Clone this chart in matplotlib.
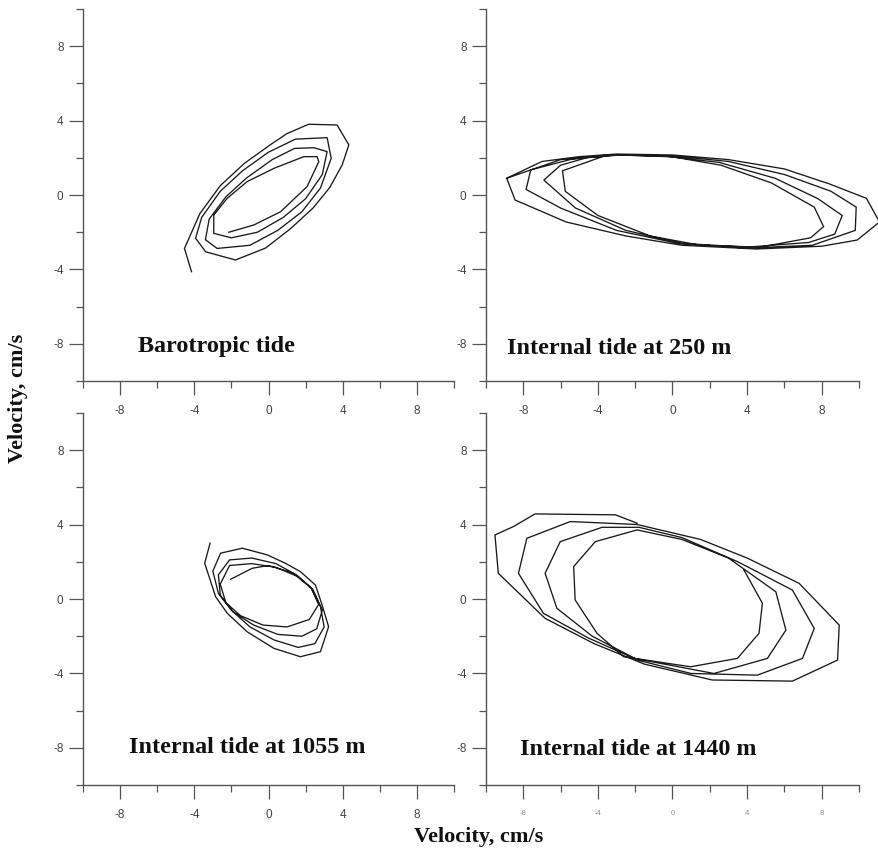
import matplotlib
matplotlib.use("Agg")
import matplotlib.pyplot as plt
from matplotlib.ticker import FixedLocator

# Tidal current hodographs (east u, north v), cm/s
baro_u = [-4.15, -4.53, -3.70, -2.60, -1.30, 0.10, 1.00, 2.17, 3.70, 4.33, 3.97, 3.30, 2.40, 1.20, -0.16, -1.78, -3.39, -3.93,
          -3.60, -2.60, -1.40, 0.00, 1.45, 3.16, 3.38, 2.80, 1.80, 0.50, -1.00, -2.77, -3.40,
          -3.20, -2.30, -1.20, 0.20, 1.40, 2.44, 3.16, 2.90, 2.00, 0.80, -0.60, -2.00, -2.95,
          -2.95, -2.23, -1.15, 0.29, 1.90, 2.62, 2.71, 2.08, 0.65, -0.79, -2.14]
baro_v = [-4.12, -2.87, -1.00, 0.50, 1.70, 2.70, 3.30, 3.80, 3.76, 2.69, 1.61, 0.40, -0.70, -1.80, -2.85, -3.49, -3.05, -2.32,
          -1.20, 0.20, 1.30, 2.30, 3.00, 3.08, 1.97, 0.37, -0.90, -1.90, -2.70, -2.87, -2.40,
          -1.30, -0.10, 0.90, 1.90, 2.50, 2.54, 2.33, 1.10, -0.20, -1.20, -2.00, -2.30, -2.06,
          -1.08, -0.18, 0.72, 1.43, 2.06, 2.06, 1.79, 0.45, -0.90, -1.61, -2.00]

it250_u = [-3.50, -5.90, -5.75, -4.00, -1.20, 1.50, 4.70, 7.40, 8.10, 7.60, 5.30, 2.60, 0.00, -2.80, -4.60,
           -6.00, -6.90, -5.20, -2.50, 0.50, 4.00, 7.30, 8.70, 9.10, 7.80, 5.50, 2.50, -0.50, -3.50, -5.50,
           -7.60, -7.85, -6.00, -3.00, 0.30, 4.00, 7.50, 9.80, 9.85, 8.50, 6.00, 3.00, 0.00, -3.00, -6.00,
           -8.89, -8.44, -5.70, -2.50, 0.50, 4.50, 8.00, 9.90, 11.10, 10.40, 8.40, 6.00, 3.00, 0.00, -3.00, -5.00, -7.00,
           -8.89]
it250_v = [2.15, 1.30, 0.20, -1.10, -2.20, -2.70, -2.80, -2.30, -1.70, -0.65, 0.65, 1.60, 2.05, 2.15, 2.00,
           1.60, 0.80, -0.70, -1.90, -2.60, -2.80, -2.55, -2.10, -1.10, -0.20, 0.90, 1.75, 2.10, 2.15, 1.90,
           1.35, 0.30, -0.70, -1.90, -2.60, -2.85, -2.70, -1.90, -0.65, 0.20, 1.10, 1.80, 2.10, 2.15, 1.90,
           0.90, -0.27, -1.45, -2.20, -2.70, -2.90, -2.75, -2.42, -1.45, -0.18, 0.60, 1.40, 1.90, 2.15, 2.20, 2.06, 1.80,
           0.90]

it1055_u = [-3.15, -3.44, -2.85, -2.22, -1.15, 0.29, 1.72, 2.80, 3.24, 2.89, 2.53, 1.72, 0.91, -0.07, -1.41, -2.58,
            -3.00, -2.70, -2.00, -1.00, 0.30, 1.60, 2.50, 3.00, 2.80, 2.30, 1.50, 0.40, -0.90, -2.10,
            -2.70, -2.60, -1.90, -0.80, 0.50, 1.80, 2.60, 2.90, 2.40, 1.60, 0.40, -0.90, -2.10,
            -2.60, -2.30, -1.50, -0.30, 1.00, 2.20, 2.70, 2.30, 1.30, 0.00, -0.88, -2.04]
it1055_v = [3.00, 1.92, 0.12, -0.77, -1.76, -2.65, -3.10, -2.83, -1.49, -0.32, 0.75, 1.47, 1.92, 2.37, 2.73, 2.46,
            1.50, 0.30, -0.60, -1.50, -2.20, -2.60, -2.40, -1.50, -0.40, 0.60, 1.30, 1.90, 2.20, 2.10,
            1.30, 0.20, -0.70, -1.40, -1.90, -2.00, -1.60, -0.60, 0.50, 1.20, 1.70, 1.90, 1.80,
            0.80, -0.20, -0.90, -1.40, -1.50, -1.10, -0.30, 0.60, 1.40, 1.80, 1.65, 1.06]

it1440_u = [-1.90, -3.06, -7.37, -8.53, -9.52, -9.34, -6.83, -4.20, -1.50, 2.13, 6.43, 8.85, 8.94, 6.79, 4.00, 1.50,
            -1.90, -5.48, -7.81, -8.26, -6.92, -4.50, -1.80, 1.00, 4.55, 6.97, 7.60, 6.43, 3.50, 0.50,
            -1.80, -3.78, -6.02, -6.83, -6.20, -4.30, -2.00, 2.22, 5.09, 6.08, 5.54, 3.00, 0.50,
            -1.90, -4.14, -5.30, -5.22, -4.05, -2.62, 0.97, 3.48, 4.64, 4.82, 3.83]
it1440_v = [4.07, 4.52, 4.57, 3.89, 3.44, 1.38, -1.04, -2.40, -3.50, -4.35, -4.41, -3.28, -1.40, 0.84, 2.20, 3.20,
            4.00, 4.16, 3.26, 1.38, -0.77, -2.10, -3.30, -4.00, -4.09, -3.19, -1.58, 0.48, 2.00, 3.30,
            3.85, 3.85, 3.08, 1.38, -0.50, -2.00, -3.20, -4.00, -3.19, -1.67, 0.39, 2.20, 3.20,
            3.71, 3.08, 1.74, -0.05, -1.84, -3.10, -3.64, -3.19, -1.84, -0.23, 1.56]

titles = ["Barotropic tide", "Internal tide at 250 m",
          "Internal tide at 1055 m", "Internal tide at 1440 m"]
major_ticks = [-8, -4, 0, 4, 8]
minor_ticks = [-10, -6, -2, 2, 6, 10]
tick_labels = ["-8", "-4", "0", "4", "8"]

series = [(baro_u, baro_v), (it250_u, it250_v), (it1055_u, it1055_v), (it1440_u, it1440_v)]

W, H = 879, 856
fig = plt.figure(figsize=(W / 100, H / 100), dpi=100)

# axes boxes in pixels: left, top, right, bottom
boxes = [(83, 8.8, 454, 381.2), (486, 8.8, 859, 381.2),
         (83, 412.8, 454, 785.2), (486, 412.8, 859, 785.2)]
title_pos = [(-7.05, -8.45), (-8.9, -8.55), (-7.5, -8.25), (-8.2, -8.4)]

serif = ["Liberation Serif", "DejaVu Serif"]
sans = ["Liberation Sans", "DejaVu Sans"]

for i, ((u, v), (l, t, r, b)) in enumerate(zip(series, boxes)):
    ax = fig.add_axes([l / W, 1 - b / H, (r - l) / W, (b - t) / H])
    ax.set_facecolor("none")
    ax.plot(u, v, color="#1a1a1a", lw=0.95, clip_on=False, solid_joinstyle="miter")
    ax.set_xlim(-10, 10)
    ax.set_ylim(-10, 10)
    for s in ("top", "right"):
        ax.spines[s].set_visible(False)
    for s in ("left", "bottom"):
        ax.spines[s].set_color("#555555")
        ax.spines[s].set_linewidth(1.0)
    ax.xaxis.set_major_locator(FixedLocator(major_ticks))
    ax.xaxis.set_minor_locator(FixedLocator(minor_ticks))
    ax.yaxis.set_major_locator(FixedLocator(major_ticks))
    ax.yaxis.set_minor_locator(FixedLocator(minor_ticks))
    ax.set_xticklabels(tick_labels)
    ax.set_yticklabels(tick_labels)
    ax.tick_params(which="major", direction="out", length=10, width=0.9, color="#555555")
    ax.tick_params(which="minor", direction="out", length=5, width=0.9, color="#555555")
    ax.tick_params(axis="y", which="major", pad=4, labelsize=8.5, labelcolor="#444444")
    if i == 3:
        ax.tick_params(axis="x", which="major", pad=7.5, labelsize=5.5, labelcolor="#8a8a8a")
    else:
        ax.tick_params(axis="x", which="major", pad=7, labelsize=8.5, labelcolor="#444444")
    for lab in ax.get_xticklabels() + ax.get_yticklabels():
        lab.set_family(sans)
    tx, ty = title_pos[i]
    ax.text(tx, ty, titles[i], family=serif, fontweight="bold", fontsize=17.4,
            ha="left", va="baseline", color="#111111")

fig.text(18 / W, 1 - 398 / H, "Velocity, cm/s", rotation=90, family=serif,
         fontweight="bold", fontsize=16, ha="center", va="center", color="#111111")
fig.text(479 / W, 1 - 837 / H, "Velocity, cm/s", family=serif,
         fontweight="bold", fontsize=16, ha="center", va="center", color="#111111")

fig.savefig("out.png", dpi=100)
